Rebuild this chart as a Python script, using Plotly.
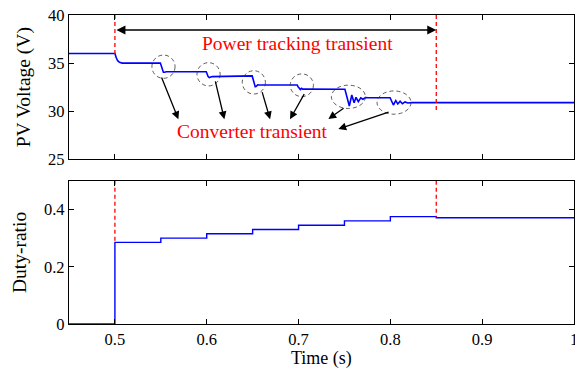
import plotly.graph_objects as go
from plotly.subplots import make_subplots

# ---------------- data ----------------
# PV voltage trace (time in s, voltage in V)
time_v = [0.45, 0.5, 0.5015, 0.503, 0.505, 0.508,
          0.5495, 0.5505, 0.5515, 0.5528, 0.554, 0.556,
          0.5995, 0.6005, 0.6015, 0.6028, 0.604, 0.606,
          0.6495, 0.6505, 0.6515, 0.6528, 0.654, 0.6555, 0.657,
          0.6985, 0.6995, 0.7008, 0.702, 0.7033, 0.7045, 0.706,
          0.7505, 0.7553, 0.758, 0.7605, 0.7626, 0.7651, 0.7678, 0.770, 0.773, 0.7757,
          0.7997, 0.8033, 0.8059, 0.8081, 0.8106, 0.8131, 0.816, 0.819, 0.8236, 1.0]
volt = [36.0, 36.0, 35.55, 35.25, 35.08, 35.0,
        35.0, 34.7, 34.3, 34.05, 34.05, 34.1,
        34.1, 33.85, 33.6, 33.5, 33.55, 33.6,
        33.67, 33.3, 32.8, 32.55, 32.6, 32.75, 32.73,
        32.73, 32.55, 32.35, 32.25, 32.38, 32.3, 32.3,
        32.28, 30.55, 31.69, 30.89, 31.45, 31.0, 31.4, 31.25, 31.42, 31.4,
        31.4, 30.65, 31.1, 30.76, 31.04, 30.78, 30.97, 30.86, 30.9, 30.9]

# Duty ratio steps
duty_t = [0.45, 0.5, 0.55, 0.6, 0.65, 0.7, 0.75, 0.8, 0.85, 1.0]
duty = [0.0, 0.285, 0.3, 0.315, 0.33, 0.345, 0.36, 0.375, 0.371, 0.371]

# Power tracking transient markers
mark_t = [0.5, 0.85]
mark_v_end = [35.6, 30.0]      # bottom of red dashed lines in top plot
mark_d_end = [0.285, 0.375]    # bottom of red dashed lines in bottom plot

# Dashed ellipses around converter transients (centre t, centre V, half-width t, half-height V)
circ_t = [0.5529, 0.6020, 0.6513, 0.7036, 0.7543, 0.8040]
circ_v = [34.63, 33.84, 33.0, 32.7, 31.5, 30.9]
circ_rt = [0.0126, 0.0126, 0.0126, 0.0126, 0.0185, 0.0185]
circ_rv = [1.21, 1.21, 1.21, 1.18, 1.21, 1.21]

# Arrows (tail -> head)
arr_tail_t = [0.5502, 0.6090, 0.6599, 0.7071, 0.7507, 0.7997]
arr_tail_v = [33.67, 33.25, 32.14, 31.93, 30.42, 29.96]
arr_head_t = [0.5691, 0.6192, 0.6690, 0.6907, 0.7325, 0.7434]
arr_head_v = [29.17, 29.17, 29.17, 29.17, 29.2, 28.16]

x_ticks = [0.5, 0.6, 0.7, 0.8, 0.9, 1.0]
x_tick_text = ["0.5", "0.6", "0.7", "0.8", "0.9", "1"]
v_ticks = [25, 30, 35, 40]
d_ticks = [0, 0.2, 0.4]
d_tick_text = ["0", "0.2", "0.4"]

# ---------------- figure ----------------
FONT = "Liberation Serif, Times New Roman, serif"
TXT = 19.5
TICK = 16.5
fig = make_subplots(rows=2, cols=1, shared_xaxes=False, vertical_spacing=0.07)

blue = "#0000ff"
red = "#ff0000"

fig.add_trace(go.Scatter(x=time_v, y=volt, mode="lines",
                         line=dict(color=blue, width=1.6), showlegend=False), row=1, col=1)
fig.add_trace(go.Scatter(x=duty_t, y=duty, mode="lines", line_shape="hv",
                         line=dict(color=blue, width=1.4), showlegend=False), row=2, col=1)

for t, ve, de in zip(mark_t, mark_v_end, mark_d_end):
    fig.add_trace(go.Scatter(x=[t, t], y=[40, ve], mode="lines",
                             line=dict(color=red, width=1.3, dash="4px,3px"),
                             showlegend=False), row=1, col=1)
    fig.add_trace(go.Scatter(x=[t, t], y=[0.5, de], mode="lines",
                             line=dict(color=red, width=1.3, dash="4px,3px"),
                             showlegend=False), row=2, col=1)

for ct, cv, rt, rv in zip(circ_t, circ_v, circ_rt, circ_rv):
    fig.add_shape(type="circle", xref="x", yref="y",
                  x0=ct - rt, x1=ct + rt, y0=cv - rv, y1=cv + rv,
                  line=dict(color="#333333", width=0.8, dash="4px,3px"))

for tt, tv, ht, hv in zip(arr_tail_t, arr_tail_v, arr_head_t, arr_head_v):
    fig.add_annotation(x=ht, y=hv, ax=tt, ay=tv, xref="x", yref="y",
                       axref="x", ayref="y", text="", showarrow=True,
                       arrowhead=2, arrowsize=1.2, arrowwidth=1.3, arrowcolor="black")

# double arrow for power tracking transient
fig.add_annotation(x=0.85, y=38.44, ax=0.5, ay=38.44, xref="x", yref="y",
                   axref="x", ayref="y", text="", showarrow=True,
                   arrowhead=2, startarrowhead=2, arrowside="end+start",
                   arrowsize=1.2, startarrowsize=1.2, arrowwidth=1.5, arrowcolor="black")

fig.add_annotation(x=0.699, y=37.06, xref="x", yref="y", text="Power tracking transient",
                   showarrow=False, font=dict(family=FONT, size=TXT, color=red))
fig.add_annotation(x=0.650, y=27.9, xref="x", yref="y", text="Converter transient",
                   showarrow=False, font=dict(family=FONT, size=TXT, color=red))

# x-axis title placed as a paper annotation for precise vertical position
fig.add_annotation(x=0.5, y=-0.1106, xref="paper", yref="paper", text="Time (s)",
                   showarrow=False, xanchor="center", yanchor="middle", borderpad=0,
                   font=dict(family=FONT, size=18, color="black"))

axis_common = dict(showline=True, mirror="ticks", linecolor="black", linewidth=1.3,
                   ticks="inside", ticklen=5, tickwidth=1.3, tickcolor="black",
                   showgrid=False, zeroline=False, automargin=False,
                   ticklabeloverflow="allow",
                   tickfont=dict(family=FONT, size=TICK, color="black"))

fig.update_xaxes(range=[0.45, 1.0], tickvals=x_ticks, ticktext=x_tick_text, **axis_common)
fig.update_xaxes(showticklabels=False, row=1, col=1)
fig.update_yaxes(range=[25, 40], tickvals=v_ticks, row=1, col=1,
                 title=dict(text="PV Voltage (V)", font=dict(family=FONT, size=TXT, color="black"),
                            standoff=12), **axis_common)
fig.update_yaxes(range=[0, 0.5], tickvals=d_ticks, ticktext=d_tick_text, row=2, col=1,
                 title=dict(text="Duty-ratio", font=dict(family=FONT, size=TXT, color="black"),
                            standoff=12), **axis_common)

fig.update_layout(
    width=575, height=369,
    margin=dict(l=69, r=1, t=15, b=45),
    paper_bgcolor="white", plot_bgcolor="white",
    xaxis=dict(domain=[0, 1]), yaxis=dict(domain=[0.5328, 1.0]),
    xaxis2=dict(domain=[0, 1]), yaxis2=dict(domain=[0.0, 0.4633]),
    showlegend=False,
)

fig.write_html("out.html", config={"responsive": False, "displayModeBar": False},
               post_script="document.body.style.margin='0';document.body.style.padding='0';")
